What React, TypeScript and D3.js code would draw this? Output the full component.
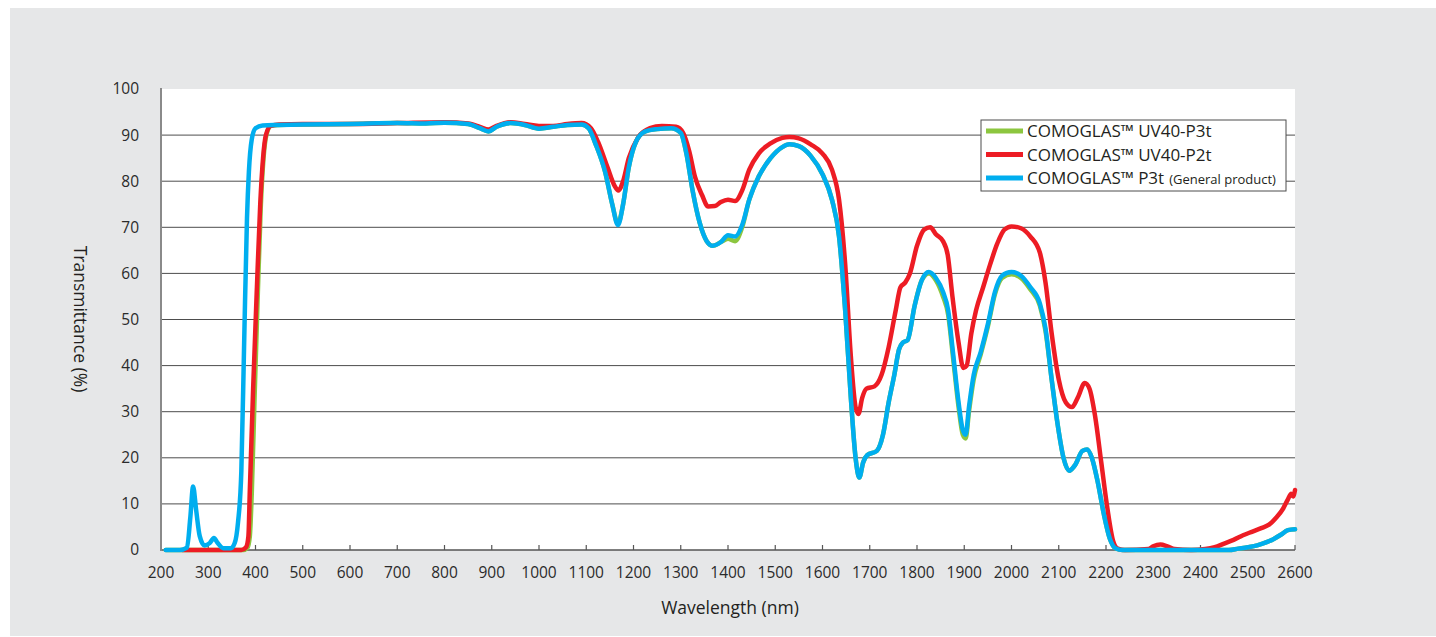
import React from 'react';
import * as d3 from 'd3';

// transmittance (%) vs wavelength (nm)
const uv40P3t: [number, number][] = [
  [210, 0], [260, 0], [300, 0], [374, 0], [383, 0.5], [388, 3], [392, 12], [398, 33], [405, 56],
  [411, 74], [417, 85], [423, 90], [433, 92], [450, 92.2], [500, 92.3], [600, 92.4], [700, 92.6],
  [760, 92.5], [800, 92.7], [850, 92.4], [875, 91.5], [893, 90.8], [910, 91.8], [940, 92.6],
  [970, 92.2], [1000, 91.4], [1030, 91.8], [1060, 92.2], [1090, 92.3], [1105, 91.5], [1120, 88],
  [1140, 82], [1155, 75], [1167, 70.8], [1178, 75], [1190, 83], [1205, 88.5], [1225, 90.8],
  [1250, 91.3], [1280, 91.5], [1300, 90.5], [1312, 86], [1325, 78], [1340, 71], [1355, 67],
  [1368, 66], [1385, 66.8], [1400, 67.5], [1415, 67], [1430, 70], [1445, 76], [1465, 81],
  [1490, 85], [1515, 87.4], [1530, 88], [1550, 87.6], [1575, 85.5], [1600, 81.5], [1620, 76],
  [1635, 68], [1648, 52], [1660, 33], [1670, 20], [1678, 15.7], [1686, 19], [1695, 20.6],
  [1715, 21.5], [1728, 25], [1740, 32], [1752, 38], [1762, 43.5], [1770, 45], [1780, 45.5],
  [1795, 53], [1810, 58.5], [1825, 60], [1840, 58.5], [1855, 55], [1866, 51], [1876, 42],
  [1888, 31], [1897, 25], [1903, 24.2], [1910, 30], [1920, 37], [1935, 42.5], [1950, 48.5],
  [1965, 55.5], [1980, 59], [2000, 59.8], [2020, 59], [2040, 56.5], [2060, 53], [2072, 47.5],
  [2085, 37], [2098, 27], [2110, 20], [2122, 17.2], [2135, 18.5], [2150, 21.5], [2160, 21.8],
  [2170, 20], [2182, 15], [2195, 8], [2208, 2.5], [2220, 0.4], [2235, 0], [2300, 0], [2400, 0],
  [2460, 0], [2480, 0.3], [2500, 0.6], [2520, 1], [2540, 1.7], [2555, 2.4], [2570, 3.3],
  [2585, 4.3], [2600, 4.5],
];

const uv40P2t: [number, number][] = [
  [245, 0], [300, 0], [370, 0], [380, 0.6], [385, 3], [388, 13], [395, 35], [403, 57], [410, 75],
  [416, 85], [422, 90], [432, 92], [450, 92.3], [500, 92.4], [600, 92.4], [700, 92.6], [800, 92.8],
  [850, 92.5], [875, 91.8], [893, 91.2], [910, 92], [940, 92.8], [970, 92.4], [1000, 92], [1030, 92],
  [1060, 92.4], [1090, 92.6], [1110, 91.5], [1125, 88.5], [1145, 83], [1160, 79], [1168, 78],
  [1178, 80], [1190, 85], [1210, 89.5], [1235, 91.5], [1260, 92], [1290, 91.8], [1305, 90.5],
  [1318, 86.5], [1330, 81], [1345, 77], [1358, 74.5], [1372, 74.6], [1385, 75.5], [1400, 76],
  [1415, 75.7], [1430, 78], [1445, 82.5], [1465, 86], [1490, 88.2], [1515, 89.4], [1530, 89.6],
  [1550, 89.3], [1575, 88], [1600, 86], [1620, 82.5], [1635, 76], [1648, 62], [1660, 42], [1670, 31],
  [1676, 29.5], [1684, 33], [1693, 35], [1710, 35.5], [1725, 38], [1740, 44], [1755, 52], [1765, 57],
  [1775, 58], [1785, 60], [1800, 66], [1815, 69.5], [1828, 70], [1840, 68.5], [1855, 67], [1865, 64],
  [1875, 55], [1888, 45], [1898, 39.5], [1905, 40], [1915, 47], [1925, 52], [1940, 57], [1955, 62],
  [1970, 66.5], [1985, 69.5], [2000, 70.2], [2020, 69.8], [2040, 68], [2060, 64.5], [2072, 58],
  [2085, 47], [2100, 37], [2115, 32], [2128, 31], [2140, 33], [2155, 36.2], [2165, 35], [2177, 29],
  [2190, 19], [2203, 9], [2215, 2], [2225, 0.3], [2240, 0], [2290, 0.2], [2300, 0.8], [2315, 1.2],
  [2330, 0.8], [2345, 0.2], [2380, 0], [2410, 0.2], [2430, 0.6], [2450, 1.4], [2470, 2.2],
  [2490, 3.2], [2510, 4], [2530, 4.8], [2545, 5.5], [2560, 7], [2575, 9], [2585, 11], [2592, 12.2],
  [2596, 11.6], [2600, 13],
];

const p3t: [number, number][] = [
  [210, 0], [240, 0], [255, 0.5], [262, 7], [268, 13.8], [274, 9], [282, 3], [292, 1], [303, 1.5],
  [312, 2.6], [320, 1.5], [332, 0.4], [348, 0.4], [356, 1.5], [363, 6], [370, 17], [376, 45],
  [382, 72], [386, 82], [392, 89], [400, 91.5], [415, 92.1], [450, 92.2], [500, 92.3], [600, 92.4],
  [700, 92.6], [760, 92.5], [800, 92.7], [850, 92.4], [875, 91.5], [893, 90.8], [910, 91.8],
  [940, 92.6], [970, 92.2], [1000, 91.4], [1030, 91.8], [1060, 92.2], [1090, 92.3], [1105, 91.5],
  [1120, 88], [1140, 82], [1155, 75], [1167, 70.5], [1178, 75], [1190, 83], [1205, 88.5],
  [1225, 90.8], [1250, 91.3], [1280, 91.5], [1300, 90.5], [1312, 86], [1325, 78], [1340, 71],
  [1355, 67], [1368, 66], [1385, 66.8], [1400, 68.3], [1415, 68], [1430, 70.5], [1445, 76],
  [1465, 81], [1490, 85], [1515, 87.4], [1530, 88], [1550, 87.6], [1575, 85.5], [1600, 81.5],
  [1620, 76], [1635, 68], [1648, 52], [1660, 33], [1670, 20], [1678, 15.7], [1686, 19], [1695, 20.6],
  [1715, 21.5], [1728, 25], [1740, 32], [1752, 38], [1762, 43.5], [1770, 45], [1780, 45.5],
  [1795, 53], [1810, 58.5], [1825, 60.3], [1840, 59], [1855, 56], [1866, 52], [1876, 43], [1888, 32],
  [1897, 26], [1903, 25], [1910, 31], [1920, 38], [1935, 43], [1950, 49], [1965, 56], [1980, 59.5],
  [2000, 60.3], [2020, 59.5], [2040, 57], [2060, 53.5], [2072, 48], [2085, 37], [2098, 27],
  [2110, 20], [2122, 17.2], [2135, 18.5], [2150, 21.5], [2160, 21.8], [2170, 20], [2182, 15],
  [2195, 8], [2208, 2.5], [2220, 0.4], [2235, 0], [2300, 0], [2400, 0], [2460, 0], [2480, 0.3],
  [2500, 0.6], [2520, 1], [2540, 1.7], [2555, 2.4], [2570, 3.3], [2585, 4.3], [2600, 4.5],
];

const xTicks = d3.range(200, 2601, 100);
const yTicks = d3.range(0, 101, 10);

const series = [
  { name: 'COMOGLAS™ UV40-P3t', note: '', color: '#8cc63f', data: uv40P3t },
  { name: 'COMOGLAS™ UV40-P2t', note: '', color: '#ed1c24', data: uv40P2t },
  { name: 'COMOGLAS™ P3t', note: '(General product)', color: '#00aeef', data: p3t },
];

const W = 1436;
const H = 637;
const FONT = '"Open Sans", "Noto Sans", sans-serif';

export default function App() {
  const x = d3.scaleLinear().domain([200, 2600]).range([161, 1295]);
  const y = d3.scaleLinear().domain([0, 100]).range([550, 89]);

  const line = d3
    .line<[number, number]>()
    .x((d) => x(d[0]))
    .y((d) => y(d[1]))
    .curve(d3.curveMonotoneX);

  const lgX = 981;
  const lgY = 120;

  return (
    <svg
      width={W}
      height={H}
      style={{ position: 'absolute', left: 0, top: 0, background: '#fff' }}
      fontFamily={FONT}
    >
      <rect x={10} y={8} width={W - 10} height={H - 9} fill="#e6e7e8" />
      <rect x={x(200)} y={y(100)} width={x(2600) - x(200)} height={y(0) - y(100)} fill="#fff" />

      {/* gridlines */}
      {yTicks.filter((t) => t > 0 && t < 100).map((t) => (
        <line key={t} x1={x(200)} x2={x(2600)} y1={y(t)} y2={y(t)} stroke="#4d4d4d" strokeWidth={1} />
      ))}

      {/* y labels */}
      {yTicks.map((t) => (
        <text key={t} x={139} y={y(t)} dy="0.35em" textAnchor="end" fontSize={15.5} fill="#2b2b2b">
          {t}
        </text>
      ))}

      {/* x axis */}
      <line x1={x(200)} x2={x(2600)} y1={y(0)} y2={y(0)} stroke="#555" strokeWidth={1.5} />
      {xTicks.map((t) => (
        <g key={t}>
          <line x1={x(t)} x2={x(t)} y1={y(0)} y2={y(0) - 5} stroke="#555" strokeWidth={1.2} />
          <text x={x(t)} y={578} textAnchor="middle" fontSize={15.5} fill="#2b2b2b">
            {t}
          </text>
        </g>
      ))}
      <line x1={x(200)} x2={x(200)} y1={y(100) - 1} y2={y(0) + 1} stroke="#8a8a8a" strokeWidth={2} />

      {/* curves */}
      <g fill="none" strokeWidth={4.5} strokeLinejoin="round" strokeLinecap="round">
        {series.map((s) => (
          <path key={s.name} d={line(s.data) ?? ''} stroke={s.color} />
        ))}
      </g>

      {/* legend */}
      <rect x={lgX} y={lgY} width={305} height={71} fill="#fff" stroke="#4d4d4d" strokeWidth={1} />
      {series.map((s, i) => {
        const cy = lgY + 11 + i * 23.5;
        return (
          <g key={s.name}>
            <line x1={lgX + 5} x2={lgX + 42} y1={cy} y2={cy} stroke={s.color} strokeWidth={5} />
            <text x={lgX + 46} y={cy} dy="0.36em" fontSize={17} fill="#231f20">
              {s.name}
              {s.note && (
                <tspan fontSize={13} dx={5}>
                  {s.note}
                </tspan>
              )}
            </text>
          </g>
        );
      })}

      {/* axis titles */}
      <text x={730} y={614} textAnchor="middle" fontSize={17.5} fill="#231f20">
        Wavelength (nm)
      </text>
      <text
        transform="translate(80,319) rotate(90)"
        textAnchor="middle"
        dy="0.35em"
        fontSize={17.5}
        fill="#231f20"
      >
        Transmittance (%)
      </text>
    </svg>
  );
}
